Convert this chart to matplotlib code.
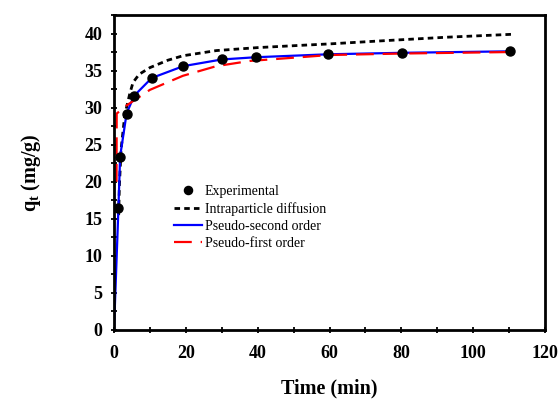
import numpy as np
import matplotlib.pyplot as plt
from matplotlib.ticker import MultipleLocator

# Experimental uptake data
t_exp = [1.2, 1.7, 3.5, 5.6, 10.5, 19.3, 30, 39.4, 59.7, 80.3, 110.3]
q_exp = [16.4, 23.4, 29.2, 31.6, 34.0, 35.6, 36.6, 36.8, 37.2, 37.4, 37.6]

# Model curves
t_ipd = [1.3, 1.5, 2.0, 3.0, 4.4, 5.3, 7.0, 10, 15, 19.2, 28.5, 40, 51.7, 60, 74, 92.5, 111]
q_ipd = [15.5, 19.5, 24.5, 29.0, 31.9, 33.4, 34.5, 35.4, 36.4, 37.0, 37.7, 38.1, 38.4, 38.6, 39.0, 39.5, 39.9]

t_pso = [0, 1.2, 1.7, 3.5, 5.6, 10.5, 19.3, 30, 39.4, 59.7, 80.3, 110.3]
q_pso = [0, 16.0, 23.4, 29.2, 31.6, 34.0, 35.6, 36.5, 36.8, 37.2, 37.4, 37.6]

t_pfo = [0.7, 0.75, 3.5, 10, 19.2, 28.5, 37.8, 51.7, 60, 80, 110]
q_pfo = [20.0, 29.2, 30.3, 32.4, 34.3, 35.6, 36.3, 36.8, 37.1, 37.3, 37.5]

plt.rcParams['font.family'] = ['Liberation Serif', 'DejaVu Serif']
plt.rcParams['mathtext.fontset'] = 'custom'
plt.rcParams['mathtext.rm'] = 'Liberation Serif'
plt.rcParams['mathtext.bf'] = 'Liberation Serif:bold'

fig = plt.figure(figsize=(5.59, 4.03), dpi=100)
ax = fig.add_axes([114 / 559, 1 - 330 / 403, 431 / 559, 315 / 403])

ax.plot(t_exp, q_exp, 'o', color='black', markersize=6.5, label='Experimental', zorder=5)
ax.plot(t_ipd, q_ipd, color='black', linewidth=2, dashes=(2, 1.5), label='Intraparticle diffusion')
ax.plot(t_pso, q_pso, color='blue', linewidth=1.6, label='Pseudo-second order')
ax.plot(t_pfo, q_pfo, color='red', linewidth=1.6, dashes=(8, 4), label='Pseudo-first order')

ax.set_xlim(0, 120)
ax.set_ylim(0, 42.5)
ax.xaxis.set_major_locator(MultipleLocator(20))
ax.xaxis.set_minor_locator(MultipleLocator(10))
ax.yaxis.set_major_locator(MultipleLocator(5))
ax.yaxis.set_minor_locator(MultipleLocator(2.5))
ax.tick_params(which='both', direction='inout', length=5, width=1.3)
ax.tick_params(labelsize=13)
ax.tick_params(axis='x', pad=8)
ax.tick_params(axis='y', pad=6)
for lab in ax.get_xticklabels() + ax.get_yticklabels():
    lab.set_fontweight('bold')
for s in ax.spines.values():
    s.set_linewidth(2)

ax.set_xlabel('Time (min)', fontsize=14.5, fontweight='bold', labelpad=12)
ax.set_ylabel(r'$\mathbf{q_t}$ (mg/g)', fontsize=14.5, fontweight='bold', labelpad=30)

ax.legend(loc='upper left', bbox_to_anchor=(174 / 559, 1 - 185 / 403),
          bbox_transform=fig.transFigure, frameon=False, fontsize=10,
          handlelength=2.0, handletextpad=0.2, labelspacing=0.3,
          borderpad=0, borderaxespad=0, markerscale=0.9)

fig.savefig('out.png', dpi=100)
